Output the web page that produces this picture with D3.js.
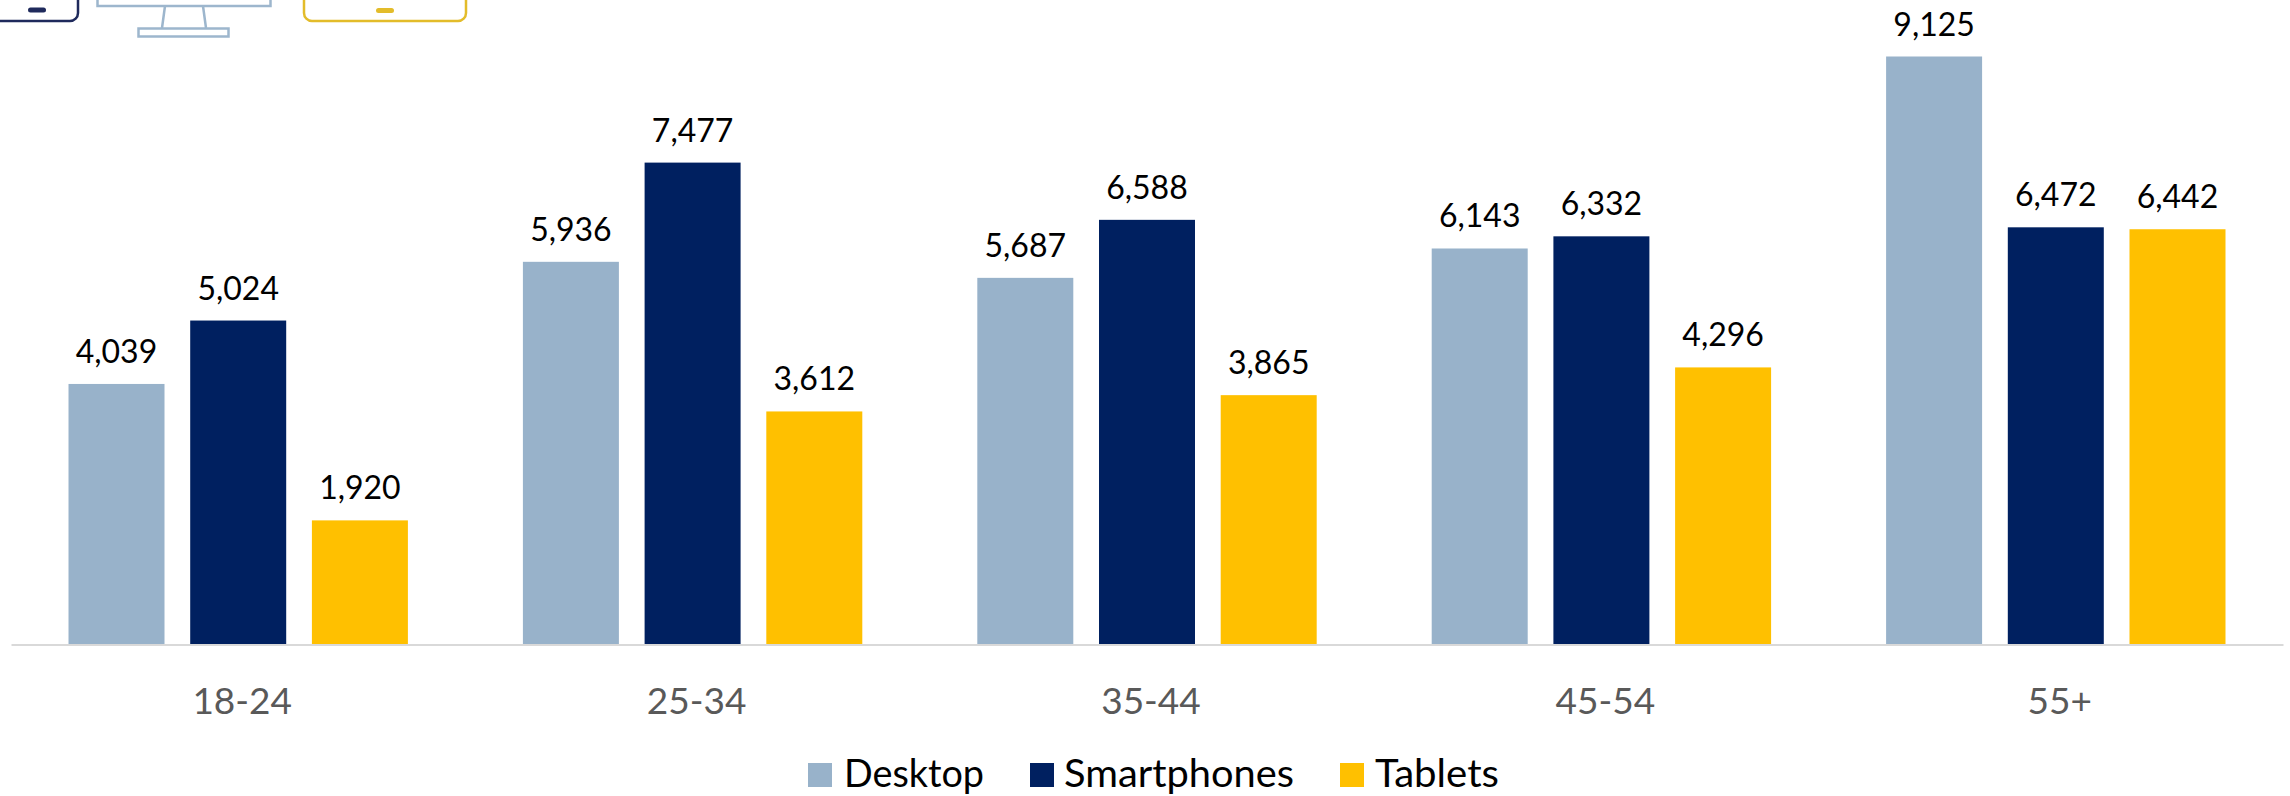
<!DOCTYPE html>
<html>
<head>
<meta charset="utf-8">
<script src="https://d3js.org/d3.v7.min.js"></script>
<style>
  html, body { margin: 0; padding: 0; background: #fff; }
  svg { display: block; }
  text { font-family: Lato, "Open Sans", sans-serif; }
</style>
</head>
<body>
<div id="viz"></div>
<script>
var ageGroups = ["18-24", "25-34", "35-44", "45-54", "55+"];
var seriesNames = ["Desktop", "Smartphones", "Tablets"];
var desktop = [4039, 5936, 5687, 6143, 9125];
var smartphones = [5024, 7477, 6588, 6332, 6472];
var tablets = [1920, 3612, 3865, 4296, 6442];
var seriesColors = ["#98b2ca", "#002060", "#ffc000"];

var width = 2290,
    height = 796,
    margin = {left: 11, right: 7, baseline: 644};

var seriesValues = [desktop, smartphones, tablets];

var svg = d3.select("#viz").append("svg")
    .attr("width", width)
    .attr("height", height);

var x0 = d3.scaleBand()
    .domain(ageGroups)
    .range([margin.left, width - margin.right]);

var x1 = d3.scaleBand()
    .domain(seriesNames)
    .range([0, x0.bandwidth()])
    .paddingInner(0.2112)
    .paddingOuter(0.4725);

// 9125 sits at y = 56.5
var y = d3.scaleLinear()
    .domain([0, 9125])
    .range([margin.baseline, 56.5]);

var color = d3.scaleOrdinal().domain(seriesNames).range(seriesColors);
var fmt = d3.format(",");

// bars + value labels
var groups = svg.selectAll("g.group")
  .data(ageGroups)
  .join("g")
    .attr("class", "group")
    .attr("transform", d => "translate(" + x0(d) + ",0)");

var cells = groups.selectAll("g.cell")
  .data((d, i) => seriesNames.map((s, j) => ({series: s, value: seriesValues[j][i]})))
  .join("g")
    .attr("class", "cell");

cells.append("rect")
    .attr("x", d => x1(d.series))
    .attr("y", d => y(d.value))
    .attr("width", x1.bandwidth())
    .attr("height", d => y(0) - y(d.value))
    .attr("fill", d => color(d.series));

cells.append("text")
    .attr("x", d => x1(d.series) + x1.bandwidth() / 2)
    .attr("y", d => y(d.value) - 21)
    .attr("text-anchor", "middle")
    .attr("font-size", 32)
    .attr("fill", "#000")
    .text(d => fmt(d.value));

// x axis
var xAxis = svg.append("g")
    .attr("transform", "translate(0," + margin.baseline + ")")
    .call(d3.axisBottom(x0).tickSize(0).tickPadding(44));

xAxis.select(".domain")
    .attr("stroke", "#d9d9d9")
    .attr("stroke-width", 2)
    .attr("transform", "translate(0,0.5)");

// labels sit a little right of the group centre in the original
xAxis.selectAll(".tick text")
    .attr("x", 4)
    .attr("font-size", 37)
    .attr("fill", "#595959")
    .style("font-family", "Lato, 'Open Sans', sans-serif");

// legend, placed by hand like the original
var legendBoxX = [808, 1030, 1340];
var legendTextX = [844, 1064, 1375];
var legendTextW = [140, 230, 124];

var legend = svg.append("g");
legend.selectAll("rect")
  .data(seriesNames)
  .join("rect")
    .attr("x", (d, i) => legendBoxX[i])
    .attr("y", 763)
    .attr("width", 24)
    .attr("height", 24)
    .attr("fill", d => color(d));

legend.selectAll("text")
  .data(seriesNames)
  .join("text")
    .attr("x", (d, i) => legendTextX[i])
    .attr("y", 787)
    .attr("font-size", 39)
    .attr("textLength", (d, i) => legendTextW[i])
    .attr("lengthAdjust", "spacingAndGlyphs")
    .attr("fill", "#000")
    .text(d => d);

// device icons cut off by the top edge
var icons = svg.append("g").attr("fill", "none").attr("stroke-width", 2.5);

icons.append("rect")
    .attr("x", -40).attr("y", -60).attr("width", 118).attr("height", 81).attr("rx", 8)
    .attr("stroke", "#1f2a5c");
icons.append("rect")
    .attr("x", 28).attr("y", 7.5).attr("width", 18).attr("height", 5).attr("rx", 2.5)
    .attr("fill", "#1f2a5c").attr("stroke", "none");

icons.append("rect")
    .attr("x", 97.5).attr("y", -40).attr("width", 173).attr("height", 46)
    .attr("stroke", "#9db6cd");
icons.append("path")
    .attr("d", "M165,6L162,28M203,6L206,28")
    .attr("stroke", "#9db6cd");
icons.append("rect")
    .attr("x", 138.5).attr("y", 28.5).attr("width", 90).attr("height", 8)
    .attr("stroke", "#9db6cd");

icons.append("rect")
    .attr("x", 304).attr("y", -60).attr("width", 162).attr("height", 81).attr("rx", 8)
    .attr("stroke", "#e3bc2a");
icons.append("rect")
    .attr("x", 376).attr("y", 8).attr("width", 18).attr("height", 5).attr("rx", 2.5)
    .attr("fill", "#e3bc2a").attr("stroke", "none");
</script>
</body>
</html>
